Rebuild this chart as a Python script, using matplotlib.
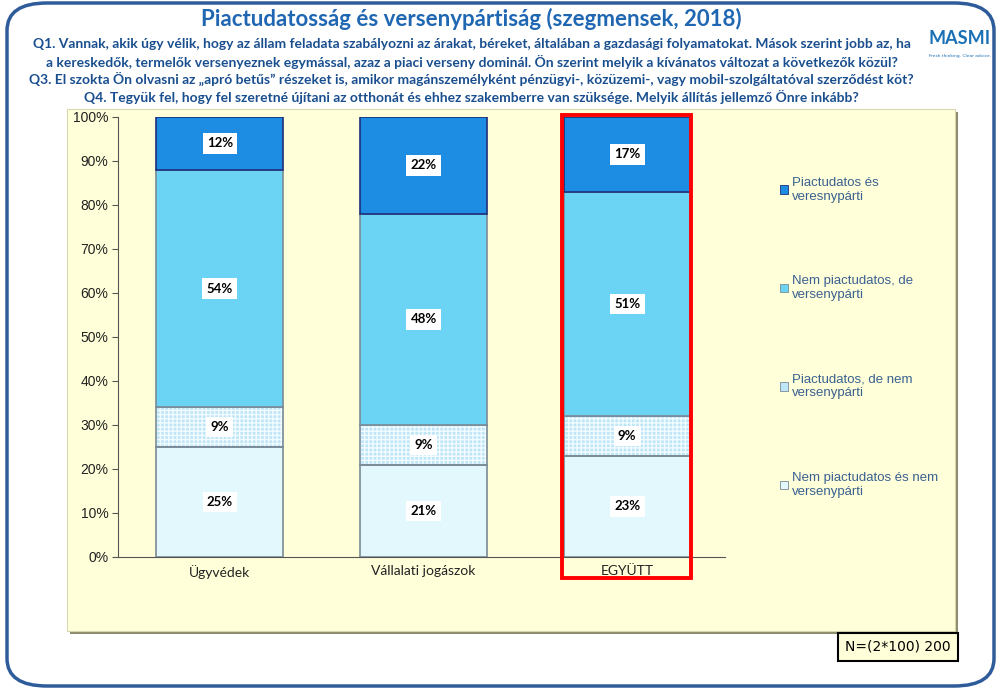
import numpy as np
import matplotlib
matplotlib.use('Agg')
import matplotlib.pyplot as plt
from matplotlib.patches import Rectangle, FancyBboxPatch

# adatok
kategoriak = ['Ügyvédek', 'Vállalati jogászok', 'EGYÜTT']
nem_nem = [25, 21, 23]          # Nem piactudatos és nem versenypárti
piac_nem_verseny = [9, 9, 9]    # Piactudatos, de nem versenypárti
nem_piac_verseny = [54, 48, 51] # Nem piactudatos, de versenypárti
piac_verseny = [12, 22, 17]     # Piactudatos és versenypárti

cimkek = ['Nem piactudatos és nem\nversenypárti',
          'Piactudatos, de nem\nversenypárti',
          'Nem piactudatos, de\nversenypárti',
          'Piactudatos és\nveresnypárti']
szinek = ['#e3f8fd', '#bfe6f7', '#6bd3f4', '#1c8de3']

W, H = 1001, 688
fig = plt.figure(figsize=(W / 100, H / 100), dpi=100)
fig.patch.set_facecolor('white')

def px(x0, y0, x1, y1):
    # pixel -> figure fraction (bal, alsó, szél, mag)
    return x0 / W, 1 - y1 / H, (x1 - x0) / W, (y1 - y0) / H

# keret
b = px(7, 3, 994, 686)
fig.patches.append(FancyBboxPatch((b[0], b[1]), b[2], b[3],
                                  boxstyle='round,pad=0,rounding_size=0.04',
                                  transform=fig.transFigure, fill=False,
                                  edgecolor='#2e5c9a', linewidth=2.5, zorder=-2))

# sárga háttér + árnyék
s = px(70, 112, 958, 634)
fig.patches.append(Rectangle((s[0], s[1]), s[2], s[3], transform=fig.transFigure,
                             facecolor='#8c8c6c', edgecolor='none', zorder=-2))
s = px(67, 109, 955, 631)
fig.patches.append(Rectangle((s[0], s[1]), s[2], s[3], transform=fig.transFigure,
                             facecolor='#ffffd9', edgecolor='#d8d8b0', linewidth=0.8, zorder=-1))

# címek
fig.text(0.471, 1 - 19 / H, 'Piactudatosság és versenypártiság (szegmensek, 2018)',
         ha='center', va='center', fontsize=16, fontweight='bold', color='#2067b3',
         family='Lato')
kerdesek = [
    'Q1. Vannak, akik úgy vélik, hogy az állam feladata szabályozni az árakat, béreket, általában a gazdasági folyamatokat. Mások szerint jobb az, ha',
    'a kereskedők, termelők versenyeznek egymással, azaz a piaci verseny dominál. Ön szerint melyik a kívánatos változat a következők közül?',
    'Q3. El szokta Ön olvasni az „apró betűs” részeket is, amikor magánszemélyként pénzügyi-, közüzemi-, vagy mobil-szolgáltatóval szerződést köt?',
    'Q4. Tegyük fel, hogy fel szeretné újítani az otthonát és ehhez szakemberre van szüksége. Melyik állítás jellemző Önre inkább?',
]
for i, q in enumerate(kerdesek):
    fig.text(0.471, 1 - (44 + i * 17.5) / H, q, ha='center', va='center',
             fontsize=10, fontweight='bold', color='#1a4f8f', family='Lato')

# logo
fig.text(960 / W, 1 - 38 / H, 'MASMI', ha='center', va='center', fontsize=13,
         fontweight='bold', color='#1a6fb5', family='Lato', zorder=5)
fig.text(960 / W, 1 - 56 / H, 'Fresh thinking. Clear advice.', ha='center', va='center',
         fontsize=3.2, color='#1a6fb5', zorder=5)

# diagram
ax = fig.add_axes(px(118, 117, 725, 557))
ax.set_zorder(2)
ax.patch.set_alpha(0)
x = np.arange(len(kategoriak))
sorozatok = [nem_nem, piac_nem_verseny, nem_piac_verseny, piac_verseny]
alja = np.zeros(len(kategoriak))
fogantyuk = []
for i, (ertek, szin, cimke) in enumerate(zip(sorozatok, szinek, cimkek)):
    ertek = np.array(ertek, dtype=float)
    if i == 1:
        ax.bar(x, ertek, 0.625, bottom=alja, color=szin, hatch='++++',
               edgecolor='#f2fbff', linewidth=0, zorder=2)
    el = '#1f2f7a' if i == 3 else '#7a8a96'
    sv = ax.bar(x, ertek, 0.625, bottom=alja, color=szin if i != 1 else 'none',
                edgecolor=el, linewidth=1.2, label=cimke, zorder=3)
    fogantyuk.append(Rectangle((0, 0), 1, 1, facecolor=szin, edgecolor=el, linewidth=0.6))
    ax.bar_label(sv, labels=[f'{v:.0f}%' for v in ertek], label_type='center',
                 fontsize=9.5, fontweight='bold', color='black', family='Lato',
                 bbox=dict(facecolor='white', edgecolor='none', pad=3), zorder=4)
    alja += ertek

ax.set_xlim(-0.5, 2.48)
ax.set_ylim(0, 100)
ax.set_yticks(np.arange(0, 101, 10))
ax.set_yticklabels([f'{v}%' for v in range(0, 101, 10)], fontsize=10,
                   family='Liberation Sans', color='#222222')
ax.set_xticks(x)
ax.set_xticklabels(kategoriak, fontsize=10, family='Lato', color='#222222')
ax.tick_params(axis='x', length=0, pad=6)
ax.tick_params(axis='y', length=4, direction='out', color='#555555', pad=3)
for sp in ['top', 'right']:
    ax.spines[sp].set_visible(False)
ax.spines['left'].set_color('#555555')
ax.spines['bottom'].set_color('#555555')

leg = ax.legend(fogantyuk[::-1], cimkek[::-1], loc='upper left',
                bbox_to_anchor=(768 / W, 1 - 165 / H), bbox_transform=fig.transFigure,
                frameon=False, handlelength=0.6, handleheight=0.6,
                handletextpad=0.3, labelspacing=5.5, prop={'family': 'Liberation Sans', 'size': 9.5})
for t in leg.get_texts():
    t.set_color('#3a6190')

# piros keret az EGYÜTT oszlop körül
r = px(562, 115, 691, 578)
fig.patches.append(Rectangle((r[0], r[1]), r[2], r[3], transform=fig.transFigure,
                             fill=False, edgecolor='#ff0000', linewidth=2.8, zorder=10))

# minta méret
n = px(838, 633, 958, 661)
fig.patches.append(Rectangle((n[0], n[1]), n[2], n[3], transform=fig.transFigure,
                             facecolor='#ffffd9', edgecolor='black', linewidth=1.5, zorder=5))
fig.text(898 / W, 1 - 647 / H, 'N=(2*100) 200', ha='center', va='center',
         fontsize=10, family='DejaVu Sans', color='black', zorder=6)

fig.savefig('out.png', dpi=100)
